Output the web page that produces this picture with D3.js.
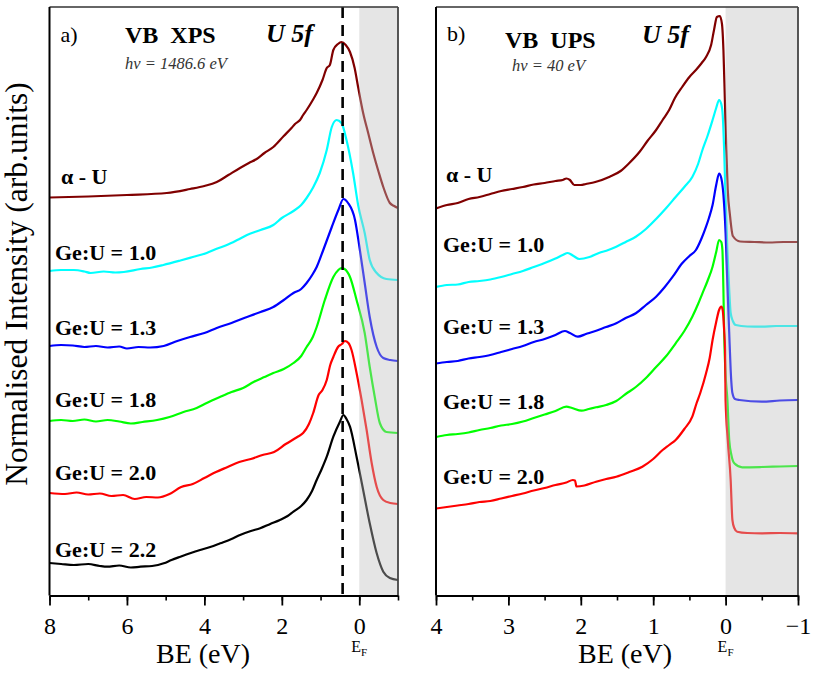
<!DOCTYPE html>
<html><head><meta charset="utf-8">
<script src="https://cdn.jsdelivr.net/npm/d3@7"></script>
<style>body{margin:0;background:#fff}svg{display:block}</style>
</head><body>
<svg id="chart" width="815" height="676"></svg>
<script>
// ---------------- DATA (BE in eV, intensity in arb. units incl. offset) ----------------
const seriesNames = ["α - U","Ge:U = 1.0","Ge:U = 1.3","Ge:U = 1.8","Ge:U = 2.0","Ge:U = 2.2"];
const seriesColors = ["#800000","#00ffff","#0000ff","#00ff00","#ff0000","#000000"];
const xpsTicks = [8,6,4,2,0];
const upsTicks = [4,3,2,1,0,-1];
const peakBE = 0.43;

const xpsAlphaU = [[8,397.5],[7,398.5],[6,400],[4.97,402],[4.37,406],[4,409],[3.68,413],[3.38,420],[3.08,427],[2.85,432],[2.65,436],[2.45,442],[2.22,448],[1.95,459],[1.75,467],[1.66,471],[1.53,475],[1.45,480],[1.36,485],[1.2,495],[1.1,502],[0.95,515],[0.84,527],[0.76,530],[0.67,545],[0.55,551],[0.46,553],[0.35,550],[0.24,543],[0.12,527],[0.03,508],[-0.1,482],[-0.23,462],[-0.36,442],[-0.5,423],[-0.62,408],[-0.79,392],[-0.9,389],[-1,387]];
const xpsGe10 = [[8,324],[7.7,325],[7.37,325],[7.1,323.5],[6.94,322],[6.6,323.5],[6.3,322.5],[6.08,323],[5.65,326],[5.35,327.5],[5.06,330],[4.62,334.5],[4.3,338],[3.94,342],[3.7,346],[3.42,350],[3.15,355],[2.9,360],[2.55,365],[2.22,370],[2,377],[1.7,384],[1.5,390],[1.36,397],[1.2,407],[1.02,422],[0.84,445],[0.71,468],[0.585,475],[0.46,472],[0.33,455],[0.16,422],[0.03,390],[-0.14,362],[-0.27,335],[-0.45,322],[-0.7,316],[-1,315]];
const xpsGe13 = [[8,249],[7.7,250],[7.4,249.5],[7.1,248],[6.8,249],[6.5,247.5],[6.2,248.5],[6,246.5],[5.7,248],[5.4,247.5],[5.05,249],[4.7,254],[4.37,258],[4,262],[3.68,267],[3.3,272],[2.9,278],[2.55,283],[2.22,288],[1.95,295],[1.7,302],[1.5,306],[1.36,312],[1.2,321],[1.1,328],[0.93,345],[0.71,368],[0.54,385],[0.41,396],[0.29,392],[0.11,375],[0,349],[-0.14,312],[-0.27,278],[-0.45,248],[-0.62,237],[-0.8,235],[-1,234]];
const xpsGe18 = [[8,174],[7.7,175],[7.4,174],[7.1,175.5],[6.8,173.5],[6.5,175],[6.2,173.5],[5.9,171.5],[5.6,173],[5.22,175],[4.9,178],[4.54,183],[4.2,187],[3.94,192],[3.6,198],[3.3,203],[3,207],[2.73,213],[2.45,218],[2.22,222],[1.95,226],[1.7,232],[1.5,239],[1.36,248],[1.2,258],[1.1,268],[0.89,295],[0.67,318],[0.54,325],[0.46,327],[0.38,326],[0.24,318],[0.07,295],[-0.14,262],[-0.27,228],[-0.4,198],[-0.53,172],[-0.7,163],[-1,162]];
const xpsGe20 = [[8,102],[7.6,101],[7.3,102.5],[7,100.5],[6.7,101.5],[6.4,99],[6.1,100],[5.8,96],[5.5,98],[5.2,97.5],[4.9,101],[4.6,108],[4.3,111],[4,117],[3.7,123],[3.4,128],[3.1,133],[2.8,136],[2.5,140],[2.2,143],[1.9,151],[1.6,158],[1.45,162],[1.3,171],[1.19,182],[1.05,200],[0.95,205],[0.84,215],[0.75,230],[0.67,238],[0.55,248],[0.45,251],[0.37,254],[0.28,252],[0.2,245],[0.07,222],[-0.06,195],[-0.19,165],[-0.32,132],[-0.45,108],[-0.62,95],[-0.8,92],[-1,91]];
const xpsGe22 = [[8,32],[7.7,31],[7.37,30],[7,31],[6.7,29],[6.51,28.3],[6.2,29.5],[5.9,27.5],[5.65,28.3],[5.35,29],[5.05,31.7],[4.85,35],[4.62,38.3],[4.35,42],[4.11,45],[3.85,48],[3.59,51.7],[3.3,56],[3.08,60],[2.8,64],[2.56,66.7],[2.3,71],[2.05,75],[1.85,79],[1.7,83.3],[1.5,89],[1.36,95],[1.22,104],[1.1,115],[0.97,126],[0.84,138.3],[0.67,158.3],[0.5,173.3],[0.41,180],[0.33,176],[0.24,168.3],[0.07,138.3],[-0.1,105],[-0.27,71.7],[-0.45,41.7],[-0.62,23.3],[-0.79,17],[-1,15]];

const upsAlphaU = [[4,386.5],[3.85,390],[3.7,392],[3.55,396],[3.4,398],[3.25,401],[3.1,404],[2.95,406],[2.8,408],[2.65,410.5],[2.5,412],[2.35,414],[2.25,415],[2.2,416.5],[2.15,415],[2.09,410],[2,410],[1.93,411],[1.8,413],[1.6,418.3],[1.45,424],[1.33,432],[1.19,443],[1.08,454],[0.96,465],[0.87,475],[0.78,485],[0.7,497],[0.6,508],[0.5,518],[0.41,525],[0.33,532],[0.27,538],[0.2,550],[0.16,565],[0.12,578],[0.08,579],[0.05,571],[0.03,545],[0.01,495],[-0.01,445],[-0.03,405],[-0.06,380],[-0.1,359],[-0.2,353.5],[-0.4,353],[-0.6,352.5],[-0.8,353],[-1,353]];
const upsGe10 = [[4,308],[3.85,310],[3.7,310.5],[3.55,313],[3.4,314],[3.25,315.5],[3.1,318],[2.95,321],[2.8,324],[2.65,328],[2.5,332],[2.35,336.5],[2.25,340],[2.18,342],[2.1,339],[2.02,336],[1.88,338],[1.75,342],[1.62,345],[1.51,348.3],[1.38,353],[1.24,358.3],[1.1,366],[0.96,376],[0.82,387],[0.69,398],[0.57,408],[0.46,418],[0.38,431],[0.32,445],[0.25,459],[0.18,475],[0.13,487],[0.09,495],[0.06,491],[0.04,480],[0.02,445],[0,395],[-0.025,345],[-0.05,305],[-0.07,282],[-0.1,274],[-0.14,270],[-0.3,268.5],[-0.5,268.3],[-0.7,269],[-1,269]];
const upsGe13 = [[4,231.5],[3.85,233],[3.7,234],[3.55,236.5],[3.4,238],[3.25,240],[3.1,243],[2.95,246],[2.8,249],[2.65,253],[2.5,256],[2.35,260],[2.22,264],[2.15,262],[2.04,258.3],[1.93,261],[1.83,263.3],[1.65,268],[1.51,271.7],[1.38,277],[1.24,281.7],[1.1,290],[0.96,298.3],[0.84,308],[0.73,318.3],[0.6,331.7],[0.5,339],[0.41,345],[0.33,357],[0.27,368.3],[0.23,377],[0.18,390],[0.13,410],[0.09,421.5],[0.06,417],[0.03,400],[0,362],[-0.025,310],[-0.05,262],[-0.07,225],[-0.094,202],[-0.13,196],[-0.19,195],[-0.5,193.3],[-0.75,194.5],[-1,195]];
const upsGe18 = [[4,158],[3.85,160],[3.7,161],[3.55,162.5],[3.4,165],[3.25,167],[3.1,169.5],[2.95,171],[2.8,173.5],[2.65,177],[2.5,180.5],[2.35,184],[2.2,188.3],[2.12,187],[1.99,184.3],[1.89,186],[1.79,187.7],[1.65,190],[1.51,194],[1.38,201],[1.24,208],[1.1,217],[0.96,228],[0.82,239],[0.69,251.7],[0.57,264],[0.46,278.3],[0.38,291],[0.32,301.7],[0.25,314],[0.18,328.3],[0.13,343],[0.09,355],[0.06,353],[0.044,345],[0.03,305],[0.02,262],[0,220],[-0.025,195],[-0.05,155],[-0.08,140],[-0.12,131.7],[-0.23,127.7],[-0.5,128],[-0.75,128.5],[-1,129]];
const upsGe20 = [[4,86.5],[3.85,88],[3.7,89.5],[3.55,91],[3.4,93],[3.25,94],[3.1,96.5],[2.95,99],[2.8,101.5],[2.65,104.5],[2.5,107],[2.35,110],[2.2,112.5],[2.11,115],[2.08,114.5],[2.06,108.5],[1.95,109.5],[1.79,113.3],[1.65,116],[1.51,118.3],[1.33,123],[1.15,128.3],[1,136],[0.87,145],[0.78,150],[0.69,155],[0.57,166],[0.46,178.3],[0.4,192],[0.35,202],[0.27,221.7],[0.22,237],[0.18,255],[0.13,273],[0.09,285],[0.06,288.5],[0.04,285],[0.02,265],[0.007,245],[0,195],[-0.03,155],[-0.07,115],[-0.094,75],[-0.12,67],[-0.16,63.3],[-0.3,62],[-0.5,61.7],[-0.75,62],[-1,61.7]];

const xpsSeries = [xpsAlphaU, xpsGe10, xpsGe13, xpsGe18, xpsGe20, xpsGe22];
const upsSeries = [upsAlphaU, upsGe10, upsGe13, upsGe18, upsGe20];

// ---------------- LAYOUT ----------------
const svg = d3.select("#chart");
const plotTop = 7, plotBottom = 595.5;
const SERIF = "'Liberation Serif', 'Times New Roman', serif";
const y = d3.scaleLinear().domain([0, 588]).range([595, 7]);

function txt(sel, size, weight, style) {
  return sel.style("font-family", SERIF).style("font-size", size + "px")
    .style("font-weight", weight || "normal").style("font-style", style || "normal");
}

function panel(cfg){
  const x = d3.scaleLinear().domain(cfg.domain).range(cfg.range);
  const g = svg.append("g");
  const line = d3.line().x(d => x(d[0])).y(d => y(d[1])).curve(d3.curveMonotoneX);
  const clipId = "clip" + cfg.id;
  svg.append("clipPath").attr("id", clipId).append("rect")
    .attr("x", cfg.range[0]).attr("y", plotTop).attr("width", cfg.range[1]-cfg.range[0]).attr("height", plotBottom-plotTop);
  const lines = g.append("g").attr("clip-path", `url(#${clipId})`);
  cfg.series.forEach((s, i) => {
    lines.append("path").datum(s.slice().sort((a,b)=>b[0]-a[0]))
      .attr("d", line).attr("fill","none")
      .attr("stroke", seriesColors[i]).attr("stroke-width", 2.2)
      .attr("stroke-linejoin","round");
  });
  g.append("rect").attr("x", x(0)).attr("y", plotTop)
    .attr("width", x(cfg.domain[1]) - x(0)).attr("height", plotBottom - plotTop)
    .attr("fill", "#bfbfbf").attr("fill-opacity", 0.4);
  if (cfg.dash) {
    g.append("line").attr("x1", x(peakBE)).attr("x2", x(peakBE))
      .attr("y1", plotTop).attr("y2", plotBottom)
      .attr("stroke", "#000").attr("stroke-width", 2.6).attr("stroke-dasharray", "11,7");
  }
  g.append("line").attr("x1", cfg.range[0]).attr("x2", cfg.range[1]).attr("y1", plotTop).attr("y2", plotTop)
    .attr("stroke", "#333").attr("stroke-width", 1.6);
  g.append("line").attr("x1", cfg.range[1]).attr("x2", cfg.range[1]).attr("y1", plotTop).attr("y2", plotBottom)
    .attr("stroke", "#444").attr("stroke-width", 1.8);
  g.append("line").attr("x1", cfg.range[0]).attr("x2", cfg.range[0]).attr("y1", plotTop).attr("y2", plotBottom)
    .attr("stroke", "#000").attr("stroke-width", 2);
  const minor = d3.range(cfg.domain[0], cfg.domain[1] - 0.001, -cfg.minorStep);
  g.append("g").attr("transform", `translate(0,${plotBottom})`)
    .call(d3.axisBottom(x).tickValues(minor).tickSize(5).tickSizeOuter(0).tickFormat(""))
    .call(a => a.select(".domain").remove())
    .call(a => a.selectAll("line").attr("stroke-width", 1.6));
  const ax = g.append("g").attr("transform", `translate(0,${plotBottom})`)
    .call(d3.axisBottom(x).tickValues(cfg.ticks).tickSize(10).tickSizeOuter(0).tickPadding(11)
      .tickFormat(d3.format("d")));
  ax.select(".domain").attr("stroke-width", 2);
  ax.selectAll("line").attr("stroke-width", 1.8);
  txt(ax.selectAll("text"), 24).attr("fill", "#000");
  txt(g.append("text").attr("x", cfg.titleX).attr("y", 663).attr("text-anchor", "middle"), 28).text("BE (eV)");
  const ef = txt(g.append("text").attr("x", x(0) - 8).attr("y", 652), 16);
  ef.append("tspan").text("E");
  ef.append("tspan").style("font-size", "11px").attr("dy", 4).text("F");
  cfg.series.forEach((s, i) => {
    txt(g.append("text").attr("x", i === 0 ? cfg.alphaX : cfg.labelX).attr("y", cfg.labelY[i] + 7), 22, "bold")
      .text(seriesNames[i]);
  });
  txt(g.append("text").attr("x", cfg.range[0] + 11).attr("y", cfg.tagY), 22).text(cfg.tag);
  txt(g.append("text").attr("x", cfg.headX).attr("y", cfg.headY), 24, "bold")
    .style("white-space", "pre").text(cfg.head);
  txt(g.append("text").attr("x", cfg.u5fX).attr("y", cfg.u5fY), 26, "bold", "italic").text("U 5f");
  txt(g.append("text").attr("x", cfg.hvX).attr("y", cfg.hvY), 16.5, "normal", "italic")
    .attr("fill", "#333").text(cfg.hv);
}

panel({id:"a", domain:[8,-1], range:[49.5,398], series:xpsSeries, ticks:xpsTicks, minorStep:1,
  dash:true, titleX:203, alphaX:61, labelX:55, labelY:[177,253,328,400,473,550],
  tag:"a)", tagY:42, head:"VB  XPS", headX:125, headY:43, u5fX:266, u5fY:42,
  hv:"hv = 1486.6 eV", hvX:125, hvY:69});
panel({id:"b", domain:[4,-1], range:[436,798], series:upsSeries, ticks:upsTicks, minorStep:0.5,
  dash:false, titleX:625, alphaX:446, labelX:443, labelY:[175,245,327,402,477],
  tag:"b)", tagY:41, head:"VB  UPS", headX:505, headY:48, u5fX:642, u5fY:43,
  hv:"hv = 40 eV", hvX:512, hvY:71});

txt(svg.append("text").attr("transform", "translate(27,284) rotate(-90)")
  .attr("text-anchor", "middle"), 31.5).text("Normalised Intensity (arb.units)");
</script>
</body></html>
